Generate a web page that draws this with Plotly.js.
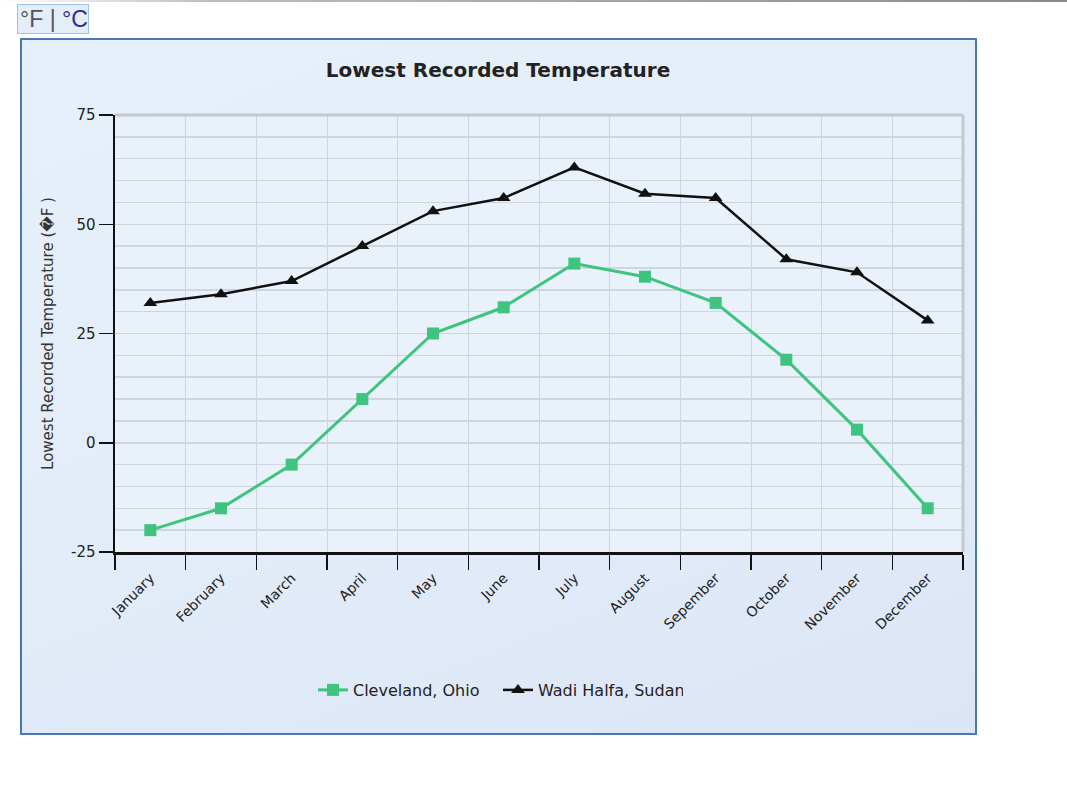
<!DOCTYPE html>
<html>
<head>
<meta charset="utf-8">
<script src="https://cdn.plot.ly/plotly-3.0.1.min.js"></script>
<style>
  html, body { margin: 0; padding: 0; background: #ffffff; width: 1067px; height: 800px; overflow: hidden; }
  #topline { position: absolute; left: 0; top: 0; width: 1067px; height: 2px; background: linear-gradient(to right, #ffffff 0%, #bdbdbd 20%, #8a8a8a 100%); }
  #unitbtn { position: absolute; left: 17px; top: 4px; width: 72px; height: 30px; border: 1px solid #9cc3e6; background: #e3eef9; box-sizing: border-box;
             font-family: "Liberation Sans", Arial, sans-serif; font-size: 23px; line-height: 28px; padding-left: 2px; white-space: nowrap; }
  #unitbtn .f { color: #555555; }
  #unitbtn .c { color: #2a2a9a; }
  #frame { position: absolute; left: 20px; top: 38px; width: 957px; height: 697px; box-sizing: border-box; border: 2px solid #4a78b0;
           background: linear-gradient(160deg, #e6f0fa 0%, #e3edf9 50%, #dce5f6 100%); }
  #chart { position: absolute; left: 0; top: 0; width: 1067px; height: 800px; }
</style>
</head>
<body>
<div id="topline"></div>
<div id="unitbtn"><span class="f">°F</span><span class="f"> | </span><span class="c">°C</span></div>
<div id="frame"></div>
<div id="chart"></div>
<script>
const months = ["January","February","March","April","May","June","July","August","Sepember","October","November","December"];
const cleveland = [-20, -15, -5, 10, 25, 31, 41, 38, 32, 19, 3, -15];
const wadiHalfa = [32, 34, 37, 45, 53, 56, 63, 57, 56, 42, 39, 28];
const seriesNames = ["Cleveland, Ohio", "Wadi Halfa, Sudan"];
const yTickVals = [-25, 0, 25, 50, 75];
const yTickText = ["-25", "0", "25", "50", "75"];

const font = "DejaVu Sans, Verdana, sans-serif";
const gridColor = "#cdd5de";

const traces = [
  {
    x: months, y: cleveland, name: seriesNames[0], type: "scatter", mode: "lines+markers",
    line: {color: "#3fc47f", width: 3},
    marker: {symbol: "square", size: 12, color: "#3fc47f"}
  },
  {
    x: months, y: wadiHalfa, name: seriesNames[1], type: "scatter", mode: "lines+markers",
    line: {color: "#111111", width: 2.5},
    marker: {symbol: "triangle-up", size: 12, color: "#111111"}
  }
];

const layout = {
  width: 1067, height: 800,
  margin: {l: 115, r: 104, t: 115, b: 248, pad: 0},
  paper_bgcolor: "rgba(0,0,0,0)",
  plot_bgcolor: "#e9f2fa",
  title: {
    text: "<b>Lowest Recorded Temperature</b>",
    font: {family: font, size: 20, color: "#222222"},
    xref: "container", x: 498/1067, xanchor: "center",
    yref: "container", y: 1 - 70/800, yanchor: "middle"
  },
  xaxis: {
    type: "category",
    range: [-0.5, 11.5],
    tickson: "boundaries",
    ticks: "outside", ticklen: 15, tickwidth: 1.5, tickcolor: "#111111",
    showline: true, linecolor: "#111111", linewidth: 2.5,
    showgrid: true, gridcolor: gridColor, gridwidth: 1,
    tickangle: -45,
    ticklabelstandoff: 10,
    tickfont: {family: font, size: 14, color: "#222222"},
    zeroline: false, fixedrange: true
  },
  yaxis: {
    range: [-25, 75],
    tickvals: yTickVals,
    ticktext: yTickText,
    ticks: "outside", ticklen: 14, tickwidth: 1.5, tickcolor: "#111111",
    showline: true, linecolor: "#111111", linewidth: 2.5,
    showgrid: true, gridcolor: gridColor, gridwidth: 1.5,
    minor: {dtick: 5, tick0: 0, showgrid: true, gridcolor: gridColor, gridwidth: 1.5, ticklen: 0},
    zeroline: false,
    tickfont: {family: font, size: 15, color: "#222222"},
    title: {
      text: "Lowest Recorded Temperature (\uFFFDF )",
      font: {family: font, size: 15, color: "#333333"},
      standoff: 14
    },
    fixedrange: true
  },
  shapes: [
    {type: "line", xref: "paper", yref: "paper", x0: 0, x1: 1, y0: 1, y1: 1, line: {color: "#c3c9d0", width: 3}},
    {type: "line", xref: "paper", yref: "paper", x0: 1, x1: 1, y0: 0, y1: 1, line: {color: "#c3c9d0", width: 3}}
  ],
  showlegend: true,
  legend: {
    orientation: "h",
    xref: "container", x: 498/1067, xanchor: "center",
    yref: "container", y: 1 - 690/800, yanchor: "middle",
    font: {family: font, size: 16, color: "#222222"},
    bgcolor: "rgba(0,0,0,0)",
    itemwidth: 30,
    entrywidth: 140
  }
};

Plotly.newPlot("chart", traces, layout, {displayModeBar: false, staticPlot: true});
</script>
</body>
</html>
